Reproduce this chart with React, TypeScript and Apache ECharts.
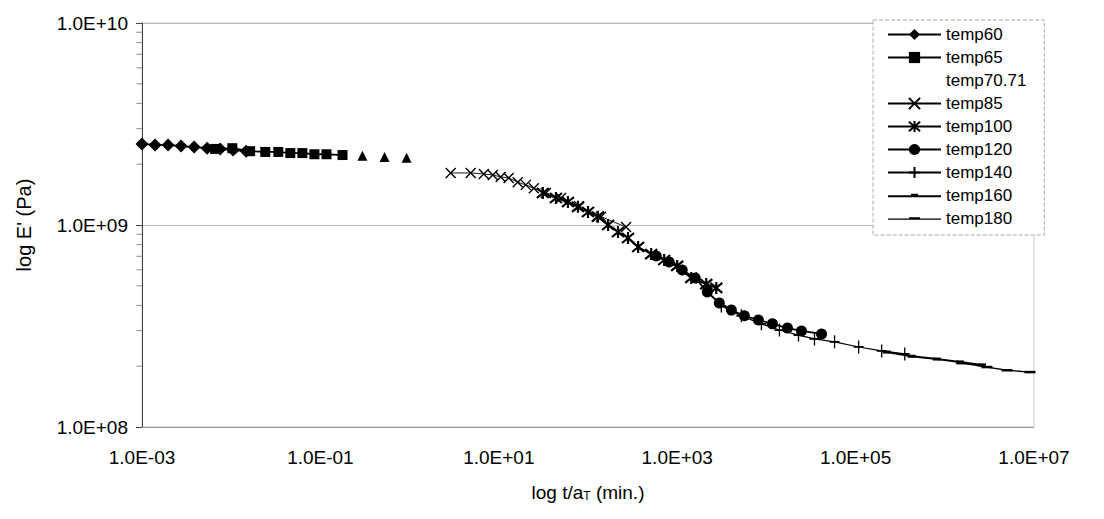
import React, { useEffect, useRef } from "react";
import * as echarts from "echarts";

// ---- data (t/aT in min, E' in Pa) ----
const temp60T = [1.0e-3, 1.4e-3, 1.96e-3, 2.74e-3, 3.84e-3, 5.37e-3, 7.52e-3, 1.05e-2, 1.47e-2];
const temp60E = [2.52e9, 2.49e9, 2.49e9, 2.46e9, 2.43e9, 2.4e9, 2.38e9, 2.35e9, 2.32e9];

const temp65T = [6.61e-3, 1.03e-2, 1.63e-2, 2.41e-2, 3.37e-2, 4.6e-2, 6.28e-2, 8.57e-2, 1.17e-1, 1.77e-1];
const temp65E = [2.38e9, 2.4e9, 2.32e9, 2.3e9, 2.3e9, 2.27e9, 2.27e9, 2.24e9, 2.24e9, 2.22e9];

const temp7071T = [0.296, 0.524, 0.925];
const temp7071E = [2.2e9, 2.17e9, 2.15e9];

const temp85T = [2.89, 4.84, 6.78, 8.57, 10.5, 12.9, 16.3, 20.1, 24.7, 33.7, 49.8, 79.3, 140, 267];
const temp85E = [1.81e9, 1.81e9, 1.79e9, 1.77e9, 1.73e9, 1.71e9, 1.63e9, 1.58e9, 1.52e9, 1.44e9, 1.36e9, 1.24e9, 1.1e9, 9.77e8];

const temp100T = [31.2, 43.7, 59.6, 77.2, 100, 129, 168, 217, 281, 365, 511, 714, 1000, 1436, 2118, 2742];
const temp100E = [1.44e9, 1.36e9, 1.3e9, 1.23e9, 1.16e9, 1.1e9, 1.0e9, 9.23e8, 8.62e8, 7.78e8, 7.18e8, 6.71e8, 6.27e8, 5.47e8, 5.1e8, 4.88e8];

const temp120T = [581, 813, 1138, 1592, 2173, 2965, 4046, 5662, 8128, 11670, 17220, 24720, 41500];
const temp120E = [7.03e8, 6.56e8, 5.98e8, 5.47e8, 4.66e8, 4.11e8, 3.79e8, 3.55e8, 3.39e8, 3.24e8, 3.09e8, 2.99e8, 2.89e8];

const temp140T = [3119, 5236, 8790, 14000, 22900, 34600, 58100, 108100, 195900, 355600];
const temp140E = [3.97e8, 3.55e8, 3.24e8, 3.02e8, 2.85e8, 2.73e8, 2.64e8, 2.49e8, 2.38e8, 2.3e8];

const temp160T = [222900, 425600, 812800, 1.475e6, 2.606e6];
const temp160E = [2.35e8, 2.24e8, 2.17e8, 2.1e8, 2.03e8];

const temp180T = [1.552e6, 2.965e6, 4.98e6, 9.02e6];
const temp180E = [2.07e8, 1.98e8, 1.91e8, 1.87e8];

const legendNames = ["temp60", "temp65", "temp70.71", "temp85", "temp100", "temp120", "temp140", "temp160", "temp180"];
const yMinorTicks = [2e8, 3e8, 4e8, 5e8, 6e8, 7e8, 8e8, 9e8, 2e9, 3e9, 4e9, 5e9, 6e9, 7e9, 8e9, 9e9];

const FONT = '"Liberation Sans", Arial, sans-serif';

function fmt(v: number) {
  const e = Math.round(Math.log10(v));
  return "1.0E" + (e < 0 ? "-" : "+") + String(Math.abs(e)).padStart(2, "0");
}
const pairs = (t: number[], e: number[]) => t.map((x, i) => [x, e[i]]);

export default function App() {
  const ref = useRef<HTMLDivElement>(null);
  useEffect(() => {
    const chart = echarts.init(ref.current!, null, { renderer: "svg" });
    const X = "path://M0,0L10,10M10,0L0,10";
    const STAR = "path://M0,0L10,10M10,0L0,10M5,-1L5,11";
    const PLUS = "path://M5,0L5,12M0,6L10,6";
    const filled = (name: string, t: number[], e: number[], symbol: any, size: any, lw: number) => ({
      name, type: "line", data: pairs(t, e), symbol, symbolSize: size, showSymbol: true,
      lineStyle: { color: "#000", width: lw },
      itemStyle: { color: "#000" },
      silent: true,
    });
    const stroked = (name: string, t: number[], e: number[], symbol: any, size: any, lw: number, bw: number) => ({
      name, type: "line", data: pairs(t, e), symbol, symbolSize: size, showSymbol: true,
      lineStyle: { color: "#000", width: lw },
      itemStyle: { color: "transparent", borderColor: "#000", borderWidth: bw },
      silent: true,
    });
    const series: any[] = [
      {
        name: "minorTicks",
        type: "scatter",
        silent: true,
        clip: false,
        z: 10,
        symbol: "rect",
        symbolSize: [5, 1],
        symbolOffset: [-3, 0],
        itemStyle: { color: "#666" },
        data: yMinorTicks.map((v) => [1e-3, v]),
      },
      filled("temp60", temp60T, temp60E, "diamond", 13, 1.8),
      filled("temp65", temp65T, temp65E, "rect", 10, 1.8),
      { ...filled("temp70.71", temp7071T, temp7071E, "triangle", 10, 0), lineStyle: { width: 0, opacity: 0 } },
      stroked("temp85", temp85T, temp85E, X, 10, 0.9, 1.4),
      stroked("temp100", temp100T, temp100E, STAR, 12, 1.8, 2.2),
      filled("temp120", temp120T, temp120E, "circle", 11, 1.8),
      stroked("temp140", temp140T, temp140E, PLUS, [10, 13], 1.2, 1.5),
      filled("temp160", temp160T, temp160E, "rect", [8, 3], 2),
      filled("temp180", temp180T, temp180E, "rect", [11, 2.5], 1.4),
    ];
    const legendData = legendNames.map((n) => {
      if (n === "temp70.71") return { name: n, icon: "none" };
      if (n === "temp160") return { name: n, icon: "path://M0,5L53,5L53,7L0,7Z M23,3.5L30,3.5L30,7L23,7Z" };
      if (n === "temp180") return { name: n, icon: "path://M0,5.4L53,5.4L53,6.6L0,6.6Z M21,4.3L32,4.3L32,6.6L21,6.6Z" };
      return n;
    });
    chart.setOption({
      animation: false,
      backgroundColor: "#fff",
      textStyle: { fontFamily: FONT },
      grid: { left: 142, right: 70, top: 23, bottom: 92, show: true, borderColor: "#ccc", borderWidth: 1 },
      legend: {
        orient: "vertical",
        left: 873,
        top: 20,
        padding: [6, 18, 8, 14],
        itemWidth: 53,
        itemHeight: 14,
        itemGap: 6,
        itemTextGap: 8,
        backgroundColor: "#fff",
        borderColor: "#aaa",
        borderWidth: 1,
        borderType: "dashed",
        textStyle: { fontSize: 17, color: "#000", fontFamily: FONT },
        selectedMode: false,
        data: legendData,
      },
      xAxis: {
        type: "log",
        logBase: 10,
        min: 1e-3,
        max: 1e7,
        interval: 2,
        axisLine: { show: true, lineStyle: { color: "#999" } },
        axisTick: { show: false },
        axisLabel: { formatter: fmt, fontSize: 19, color: "#000", fontFamily: FONT, margin: 21 },
        splitLine: { show: false },
        minorTick: { show: false },
        name: "log t/a{sub|T} (min.)",
        nameLocation: "middle",
        nameGap: 55,
        nameTextStyle: {
          fontSize: 19, color: "#000", fontFamily: FONT,
          rich: { sub: { fontSize: 12, color: "#000", fontFamily: FONT, verticalAlign: "bottom", padding: [8, 0, 0, 0] } },
        },
      },
      yAxis: {
        type: "log",
        logBase: 10,
        min: 1e8,
        max: 1e10,
        axisLine: { show: true, lineStyle: { color: "#444" } },
        axisTick: { show: true, length: 6, lineStyle: { color: "#444" } },
        axisLabel: { formatter: fmt, fontSize: 19, color: "#000", fontFamily: FONT, margin: 14 },
        splitLine: { show: true, lineStyle: { color: "#bbb" } },
        name: "log E' (Pa)",
        nameLocation: "middle",
        nameGap: 108,
        nameTextStyle: { fontSize: 20, color: "#000", fontFamily: FONT },
      },
      series,
    });
    return () => chart.dispose();
  }, []);
  return <div ref={ref} style={{ position: "absolute", left: 0, top: 0, width: 1104, height: 519 }} />;
}
